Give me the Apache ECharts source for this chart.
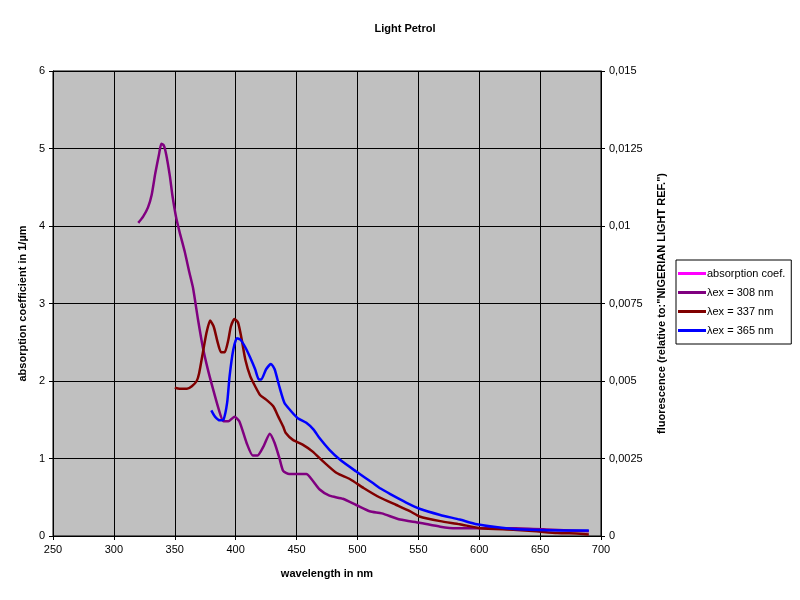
<!DOCTYPE html>
<html>
<head>
<meta charset="utf-8">
<title>Light Petrol</title>
<script src="https://cdn.jsdelivr.net/npm/echarts@6/dist/echarts.min.js"></script>
<style>
  html, body { margin: 0; padding: 0; background: #fff; }
  #main { width: 800px; height: 600px; }
</style>
</head>
<body>
<div id="main"></div>
<script>
// wavelength (nm) and fluorescence values
var wl308 = [320, 324, 328, 331, 334, 337, 339, 341, 343, 346, 348, 351, 354, 358, 362, 365, 369, 373, 377, 381, 386, 390, 394, 399, 403, 409, 414, 418, 423, 428, 432, 436, 439, 444, 458, 463, 469, 477, 488, 499, 510, 520, 535, 551, 568, 581, 600, 630, 660, 690];
var fl308 = [0.0101, 0.0103, 0.0106, 0.0110, 0.0117, 0.0123, 0.01265, 0.0126, 0.0123, 0.0116, 0.0110, 0.0103, 0.0098, 0.0092, 0.0085, 0.0080, 0.0070, 0.0061, 0.0054, 0.0048, 0.0041, 0.0037, 0.0037, 0.00385, 0.0037, 0.0030, 0.0026, 0.0026, 0.0029, 0.0033, 0.0030, 0.0025, 0.0021, 0.0020, 0.0020, 0.0018, 0.0015, 0.0013, 0.0012, 0.0010, 0.0008, 0.00073, 0.00053, 0.00043, 0.0003, 0.00025, 0.00025, 0.00025, 0.0002, 0.00015];

var wl337 = [350, 354, 360, 364, 368, 370, 373, 376, 379, 382, 385, 388, 391, 394, 396, 399, 402, 405, 408, 412, 416, 420, 425, 431, 435, 439, 441, 447, 455, 463, 472, 483, 494, 505, 518, 532, 543, 551, 568, 584, 601, 628, 647, 664, 683, 690];
var fl337 = [0.00478, 0.00475, 0.00475, 0.00483, 0.0050, 0.00525, 0.0059, 0.00655, 0.00695, 0.00675, 0.00628, 0.00593, 0.00593, 0.00633, 0.00675, 0.0070, 0.00688, 0.00633, 0.00568, 0.00515, 0.00483, 0.00455, 0.0044, 0.00418, 0.00385, 0.00353, 0.00333, 0.0031, 0.00295, 0.00273, 0.0024, 0.00203, 0.00183, 0.00155, 0.00125, 0.001, 0.0008, 0.00063, 0.00048, 0.00038, 0.00025, 0.0002, 0.00015, 0.0001, 0.000075, 0.00005];

var wl365 = [380, 383, 387, 390, 393, 395, 398, 401, 404, 408, 412, 416, 419, 421, 425, 429, 432, 436, 440, 445, 451, 458, 464, 469, 477, 486, 499, 513, 519, 527, 540, 551, 568, 584, 598, 622, 642, 669, 690];
var fl365 = [0.00405, 0.00385, 0.00373, 0.00375, 0.0043, 0.00515, 0.006, 0.00638, 0.00633, 0.00608, 0.00575, 0.00538, 0.00505, 0.00505, 0.00538, 0.00555, 0.00538, 0.0048, 0.0043, 0.00405, 0.0038, 0.00365, 0.00343, 0.00315, 0.00278, 0.00245, 0.00208, 0.0017, 0.00153, 0.00135, 0.00108, 0.00088, 0.00068, 0.00053, 0.00038, 0.00025, 0.0002, 0.00018, 0.00018];

// absorption coefficient: no points visible in the plot
var wlAbs = [];
var absCoef = [];

var seriesNames = ['absorption coef.', '\u03bbex = 308 nm', '\u03bbex = 337 nm', '\u03bbex = 365 nm'];
var seriesColors = ['#ff00ff', '#800080', '#800000', '#0000ff'];

function pairs(xs, ys) {
    return xs.map(function (x, i) { return [x, ys[i]]; });
}

var font = 'Liberation Sans, Arial, sans-serif';
var myChart = echarts.init(document.getElementById('main'));

var option = {
    animation: false,
    backgroundColor: '#ffffff',
    textStyle: { fontFamily: font, color: '#000' },
    title: {
        text: 'Light Petrol',
        left: 400,
        textAlign: 'center',
        top: 18,
        textStyle: { fontSize: 11, fontWeight: 'bold', fontFamily: font, color: '#000' }
    },
    legend: {
        orient: 'vertical',
        left: 676,
        top: 260,
        data: seriesNames,
        icon: 'rect',
        itemWidth: 28,
        itemHeight: 3,
        itemGap: 8,
        padding: [8, 6, 8, 2],
        backgroundColor: '#ffffff',
        borderColor: '#000',
        borderWidth: 1,
        borderRadius: 0,
        textStyle: { fontSize: 11, fontFamily: font, color: '#000', padding: [0, 0, 0, -4] }
    },
    grid: {
        left: 53,
        right: 199,
        top: 71,
        bottom: 64,
        show: true,
        backgroundColor: '#c0c0c0',
        borderColor: '#000',
        borderWidth: 1
    },
    xAxis: {
        type: 'value',
        min: 250,
        max: 700,
        interval: 50,
        name: 'wavelength in nm',
        nameLocation: 'middle',
        nameGap: 32,
        nameTextStyle: { fontSize: 11, fontWeight: 'bold', fontFamily: font, color: '#000' },
        axisLine: { lineStyle: { color: '#000', width: 1 } },
        axisTick: { show: true, length: 4, lineStyle: { color: '#000' } },
        axisLabel: { fontSize: 11, fontFamily: font, color: '#000', margin: 8 },
        splitLine: { show: true, lineStyle: { color: '#000', width: 1 } }
    },
    yAxis: [{
        type: 'value',
        min: 0,
        max: 6,
        interval: 1,
        position: 'left',
        name: 'absorption coefficient in 1/\u00b5m',
        nameLocation: 'middle',
        nameGap: 17,
        nameRotate: 90,
        nameTextStyle: { fontSize: 11, fontWeight: 'bold', fontFamily: font, color: '#000' },
        axisLine: { show: true, lineStyle: { color: '#000', width: 1 } },
        axisTick: { show: true, length: 4, lineStyle: { color: '#000' } },
        axisLabel: { fontSize: 11, fontFamily: font, color: '#000', margin: 8 },
        splitLine: { show: true, lineStyle: { color: '#000', width: 1 } }
    }, {
        type: 'value',
        min: 0,
        max: 0.015,
        interval: 0.0025,
        position: 'right',
        name: 'fluorescence (relative to:"NIGERIAN LIGHT REF.")',
        nameLocation: 'middle',
        nameGap: 55,
        nameRotate: 90,
        nameTextStyle: { fontSize: 11, fontWeight: 'bold', fontFamily: font, color: '#000' },
        axisLine: { show: true, lineStyle: { color: '#000', width: 1 } },
        axisTick: { show: true, length: 4, lineStyle: { color: '#000' } },
        axisLabel: {
            fontSize: 11, fontFamily: font, color: '#000', margin: 8,
            formatter: function (v) { return String(+v.toFixed(4)).replace('.', ','); }
        },
        splitLine: { show: false }
    }],
    series: [{
        name: seriesNames[0],
        type: 'line',
        yAxisIndex: 0,
        showSymbol: false,
        lineStyle: { color: seriesColors[0], width: 2.5 },
        itemStyle: { color: seriesColors[0] },
        data: pairs(wlAbs, absCoef)
    }, {
        name: seriesNames[1],
        type: 'line',
        yAxisIndex: 1,
        showSymbol: false,
        smooth: 0.2,
        lineStyle: { color: seriesColors[1], width: 2.5 },
        itemStyle: { color: seriesColors[1] },
        data: pairs(wl308, fl308)
    }, {
        name: seriesNames[2],
        type: 'line',
        yAxisIndex: 1,
        showSymbol: false,
        smooth: 0.2,
        lineStyle: { color: seriesColors[2], width: 2.5 },
        itemStyle: { color: seriesColors[2] },
        data: pairs(wl337, fl337)
    }, {
        name: seriesNames[3],
        type: 'line',
        yAxisIndex: 1,
        showSymbol: false,
        smooth: 0.2,
        lineStyle: { color: seriesColors[3], width: 2.5 },
        itemStyle: { color: seriesColors[3] },
        data: pairs(wl365, fl365)
    }]
};

myChart.setOption(option);
</script>
</body>
</html>
